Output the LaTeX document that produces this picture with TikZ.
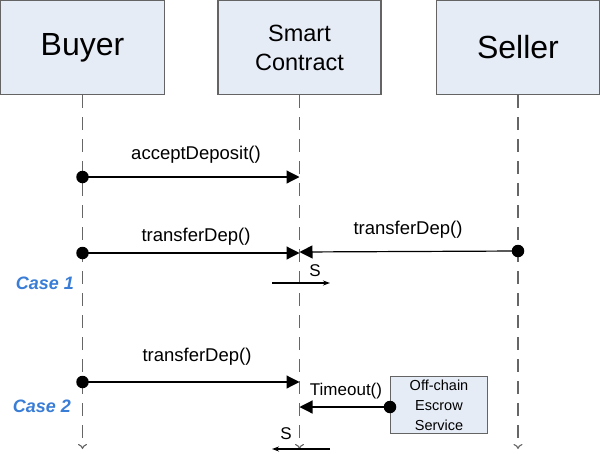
\documentclass[tikz,border=0pt]{standalone}
\usepackage{fontspec}
\setmainfont{Liberation Sans}
\usetikzlibrary{arrows.meta}

\definecolor{boxfill}{RGB}{230,236,246}
\definecolor{boxline}{RGB}{100,100,100}
\definecolor{caseblue}{RGB}{58,125,214}

\begin{document}
\begin{tikzpicture}[x=1pt,y=-1pt,
    actor/.style={draw=boxline,fill=boxfill,line width=1.2pt,inner sep=0pt},
    life/.style={draw=gray!80!black,line width=1.1pt,dash pattern=on 13pt off 9pt,-{To[length=5pt,width=9pt]}},
    msg/.style={line width=1.2pt,-{Triangle[length=13pt,width=13pt]}},
    plain/.style={line width=1.2pt,-{Stealth[length=7pt,width=5pt]}},
    dot/.style={circle,fill=black,inner sep=0pt,minimum size=12.5pt},
    lbl/.style={font=\fontsize{18.5}{20}\selectfont,inner sep=0pt},
    case/.style={font=\fontsize{18}{20}\selectfont\bfseries\itshape,text=caseblue,inner sep=0pt}]
      \useasboundingbox (0,0) rectangle (600,453);

      % Actor boxes at the top
      \node[actor,minimum width=164pt,minimum height=94pt,font=\fontsize{32}{34}\selectfont] (buyer) at (82.5,47.5) {Buyer};
      \node[actor,minimum width=163pt,minimum height=94pt,font=\fontsize{23.5}{29}\selectfont,align=center] (contract) at (299.5,47.5) {Smart\\Contract};
      \node[actor,minimum width=163pt,minimum height=94pt,font=\fontsize{32}{34}\selectfont] (seller) at (518,47.5) {Seller};

      % Lifelines
      \coordinate (buyerEnd) at (82.5,449);
      \coordinate (contractEnd) at (299.5,449);
      \coordinate (sellerEnd) at (518,449);
      \draw[life] (buyer.south) -- (buyerEnd);
      \draw[life] (contract.south) -- (contractEnd);
      \draw[life] (seller.south) -- (sellerEnd);

      % acceptDeposit()
      \node[dot] (dA) at (82.5,177) {};
      \coordinate (cA) at (299.5,177);
      \draw[msg] (dA.center) -- (cA);
      \node[lbl] (accept) at (196,155) {acceptDeposit()};

      % transferDep() from both sides
      \node[dot] (dB) at (82.5,253) {};
      \coordinate (cB) at (299.5,253);
      \draw[msg] (dB.center) -- (cB);
      \node[lbl] (transferB) at (196,237) {transferDep()};
      \node[dot] (dS) at (518,251) {};
      \coordinate (cS) at (299.5,252);
      \draw[msg] (dS.center) -- (cS);
      \node[lbl] (transferS) at (408,230) {transferDep()};

      % S going right (Case 1)
      \coordinate (s1a) at (272,283);
      \coordinate (s1b) at (330,283);
      \draw[plain] (s1a) -- (s1b);
      \node[lbl,font=\fontsize{17}{19}\selectfont] (s1) at (315,271) {S};
      \node[case] (case1) at (45,283) {Case 1};

      % transferDep() (Case 2)
      \node[dot] (dC) at (82.5,382) {};
      \coordinate (cC) at (299.5,382);
      \draw[msg] (dC.center) -- (cC);
      \node[lbl] (transferC) at (197,357) {transferDep()};
      \node[case] (case2) at (42,406) {Case 2};

      % Off-chain escrow and Timeout()
      \node[actor,line width=1pt,minimum width=97pt,minimum height=57pt,font=\fontsize{14.5}{20}\selectfont,align=center] (escrow) at (439,405) {Off-chain\\Escrow\\Service};
      \node[dot] (dT) at (escrow.west |- 0,407) {};
      \coordinate (cT) at (299.5,407);
      \draw[msg] (dT.center) -- (cT);
      \node[lbl,font=\fontsize{17}{19}\selectfont] (timeout) at (346,391) {Timeout()};

      % S going left
      \coordinate (s2a) at (330,449);
      \coordinate (s2b) at (272,449);
      \draw[plain] (s2a) -- (s2b);
      \node[lbl,font=\fontsize{17}{19}\selectfont] (s2) at (286,434) {S};
\end{tikzpicture}
\end{document}
